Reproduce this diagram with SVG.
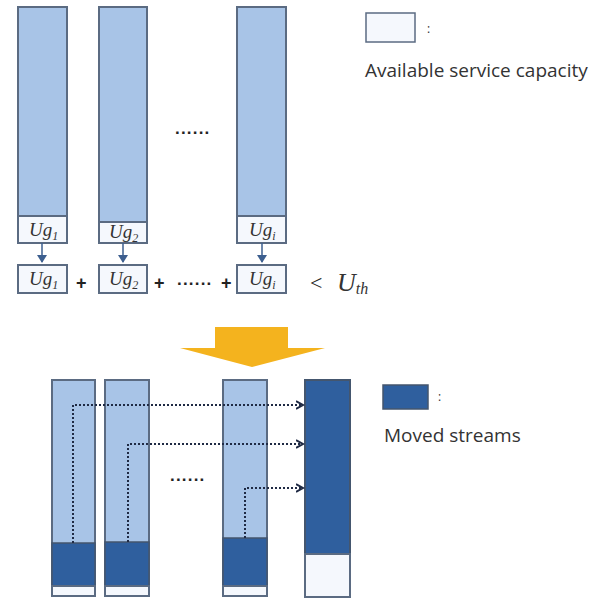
<svg xmlns="http://www.w3.org/2000/svg" width="604" height="603" viewBox="0 0 604 603">
<style>
.lb{fill:#A8C4E7;stroke:#5B6B82;stroke-width:2}
.db{fill:#2F5F9E;stroke:#44566E;stroke-width:1.5}
.wb{fill:#F5F8FD;stroke:#5B6B82;stroke-width:2}
.mt{font-family:"Liberation Serif",serif;font-style:italic;font-size:19px;fill:#333}
.sb{font-size:12px}
.tx{font-family:"Open Sans","Liberation Sans",sans-serif;font-size:19px;fill:#333}
.op{font-family:"Liberation Sans",sans-serif;font-weight:bold;font-size:18px;fill:#222}
.dt{font-family:"Liberation Sans",sans-serif;font-weight:bold;font-size:17px;fill:#222;letter-spacing:1.2px}
.dl{fill:none;stroke:#1F2A44;stroke-width:2;stroke-dasharray:2 2}
.va{stroke:#3D5F8F;stroke-width:1.5;fill:none}
</style>
<defs>
<marker id="ah" markerWidth="10" markerHeight="10" refX="6" refY="5" orient="auto" markerUnits="userSpaceOnUse">
<path d="M0,1 L7,5 L0,9" fill="none" stroke="#1F2A44" stroke-width="2"/>
</marker>
</defs>

<g id="bar1">
<rect class="lb" x="18" y="7" width="49" height="236"/>
<rect class="wb" x="18" y="216" width="49" height="27"/>
<text class="mt" x="29" y="236">Ug<tspan class="sb" dy="4">1</tspan></text>
</g>
<g id="bar2">
<rect class="lb" x="99" y="7" width="48" height="236"/>
<rect class="wb" x="99" y="222" width="48" height="21"/>
<text class="mt" x="109" y="238">Ug<tspan class="sb" dy="4">2</tspan></text>
</g>
<g id="bar3">
<rect class="lb" x="237" y="7" width="49" height="236"/>
<rect class="wb" x="237" y="216" width="49" height="27"/>
<text class="mt" x="249" y="236">Ug<tspan class="sb" dy="4">i</tspan></text>
</g>
<text class="dt" x="175" y="134">......</text>

<g id="legend1">
<rect class="wb" x="366" y="13" width="49" height="29" style="stroke-width:1.5"/>
<text class="tx" x="427" y="33" style="font-size:12px">:</text>
<text class="tx" x="365" y="77">Available service capacity</text>
</g>

<g id="box1"><rect class="wb" x="18" y="265" width="49" height="28"/><text class="mt" x="29" y="285">Ug<tspan class="sb" dy="4">1</tspan></text></g>
<g id="box2"><rect class="wb" x="99" y="265" width="48" height="28"/><text class="mt" x="109" y="285">Ug<tspan class="sb" dy="4">2</tspan></text></g>
<g id="box3"><rect class="wb" x="237" y="265" width="49" height="28"/><text class="mt" x="249" y="285">Ug<tspan class="sb" dy="4">i</tspan></text></g>
<text class="op" x="76" y="289">+</text>
<text class="op" x="154" y="289">+</text>
<text class="dt" x="177" y="285">......</text>
<text class="op" x="221" y="289">+</text>
<text x="310" y="290" style="font-family:'Liberation Serif',serif;font-size:22px;fill:#222">&lt;</text>
<text class="mt" x="337" y="291" style="font-size:26px">U<tspan style="font-size:16px" dy="3">th</tspan></text>

<g id="connectors">
<line class="va" x1="42" y1="243" x2="42" y2="262"/>
<path d="M37,255 L42,263 L47,255 Z" fill="#3D5F8F"/>
<line class="va" x1="123" y1="243" x2="123" y2="262"/>
<path d="M118,255 L123,263 L128,255 Z" fill="#3D5F8F"/>
<line class="va" x1="262" y1="243" x2="262" y2="262"/>
<path d="M257,255 L262,263 L267,255 Z" fill="#3D5F8F"/>
</g>

<g id="bigarrow">
<path d="M215,327 H288 V348 H325 L252,367 L180,348 H215 Z" fill="#F4B31E"/>
</g>

<g id="bbar1">
<rect class="lb" x="52" y="380" width="43" height="216"/>
<rect class="db" x="52" y="543" width="43" height="43"/>
<rect class="wb" x="52" y="586" width="43" height="10"/>
</g>
<g id="bbar2">
<rect class="lb" x="105" y="380" width="44" height="216"/>
<rect class="db" x="105" y="542" width="44" height="44"/>
<rect class="wb" x="105" y="586" width="44" height="10"/>
</g>
<g id="bbar3">
<rect class="lb" x="223" y="380" width="44" height="216"/>
<rect class="db" x="223" y="538" width="44" height="48"/>
<rect class="wb" x="223" y="586" width="44" height="10"/>
</g>
<g id="target">
<rect class="db" x="305" y="380" width="45" height="217" style="stroke-width:2"/>
<rect class="wb" x="305" y="554" width="45" height="43"/>
</g>
<text class="dt" x="170" y="481">......</text>

<g id="moves">
<path class="dl" d="M73,543 V405 H302" marker-end="url(#ah)"/>
<path class="dl" d="M128,542 V444 H302" marker-end="url(#ah)"/>
<path class="dl" d="M245,538 V488 H302" marker-end="url(#ah)"/>
</g>

<g id="legend2">
<rect class="db" x="383" y="385" width="45" height="24"/>
<text class="tx" x="438" y="401" style="font-size:12px">:</text>
<text class="tx" x="384" y="442">Moved streams</text>
</g>
</svg>
